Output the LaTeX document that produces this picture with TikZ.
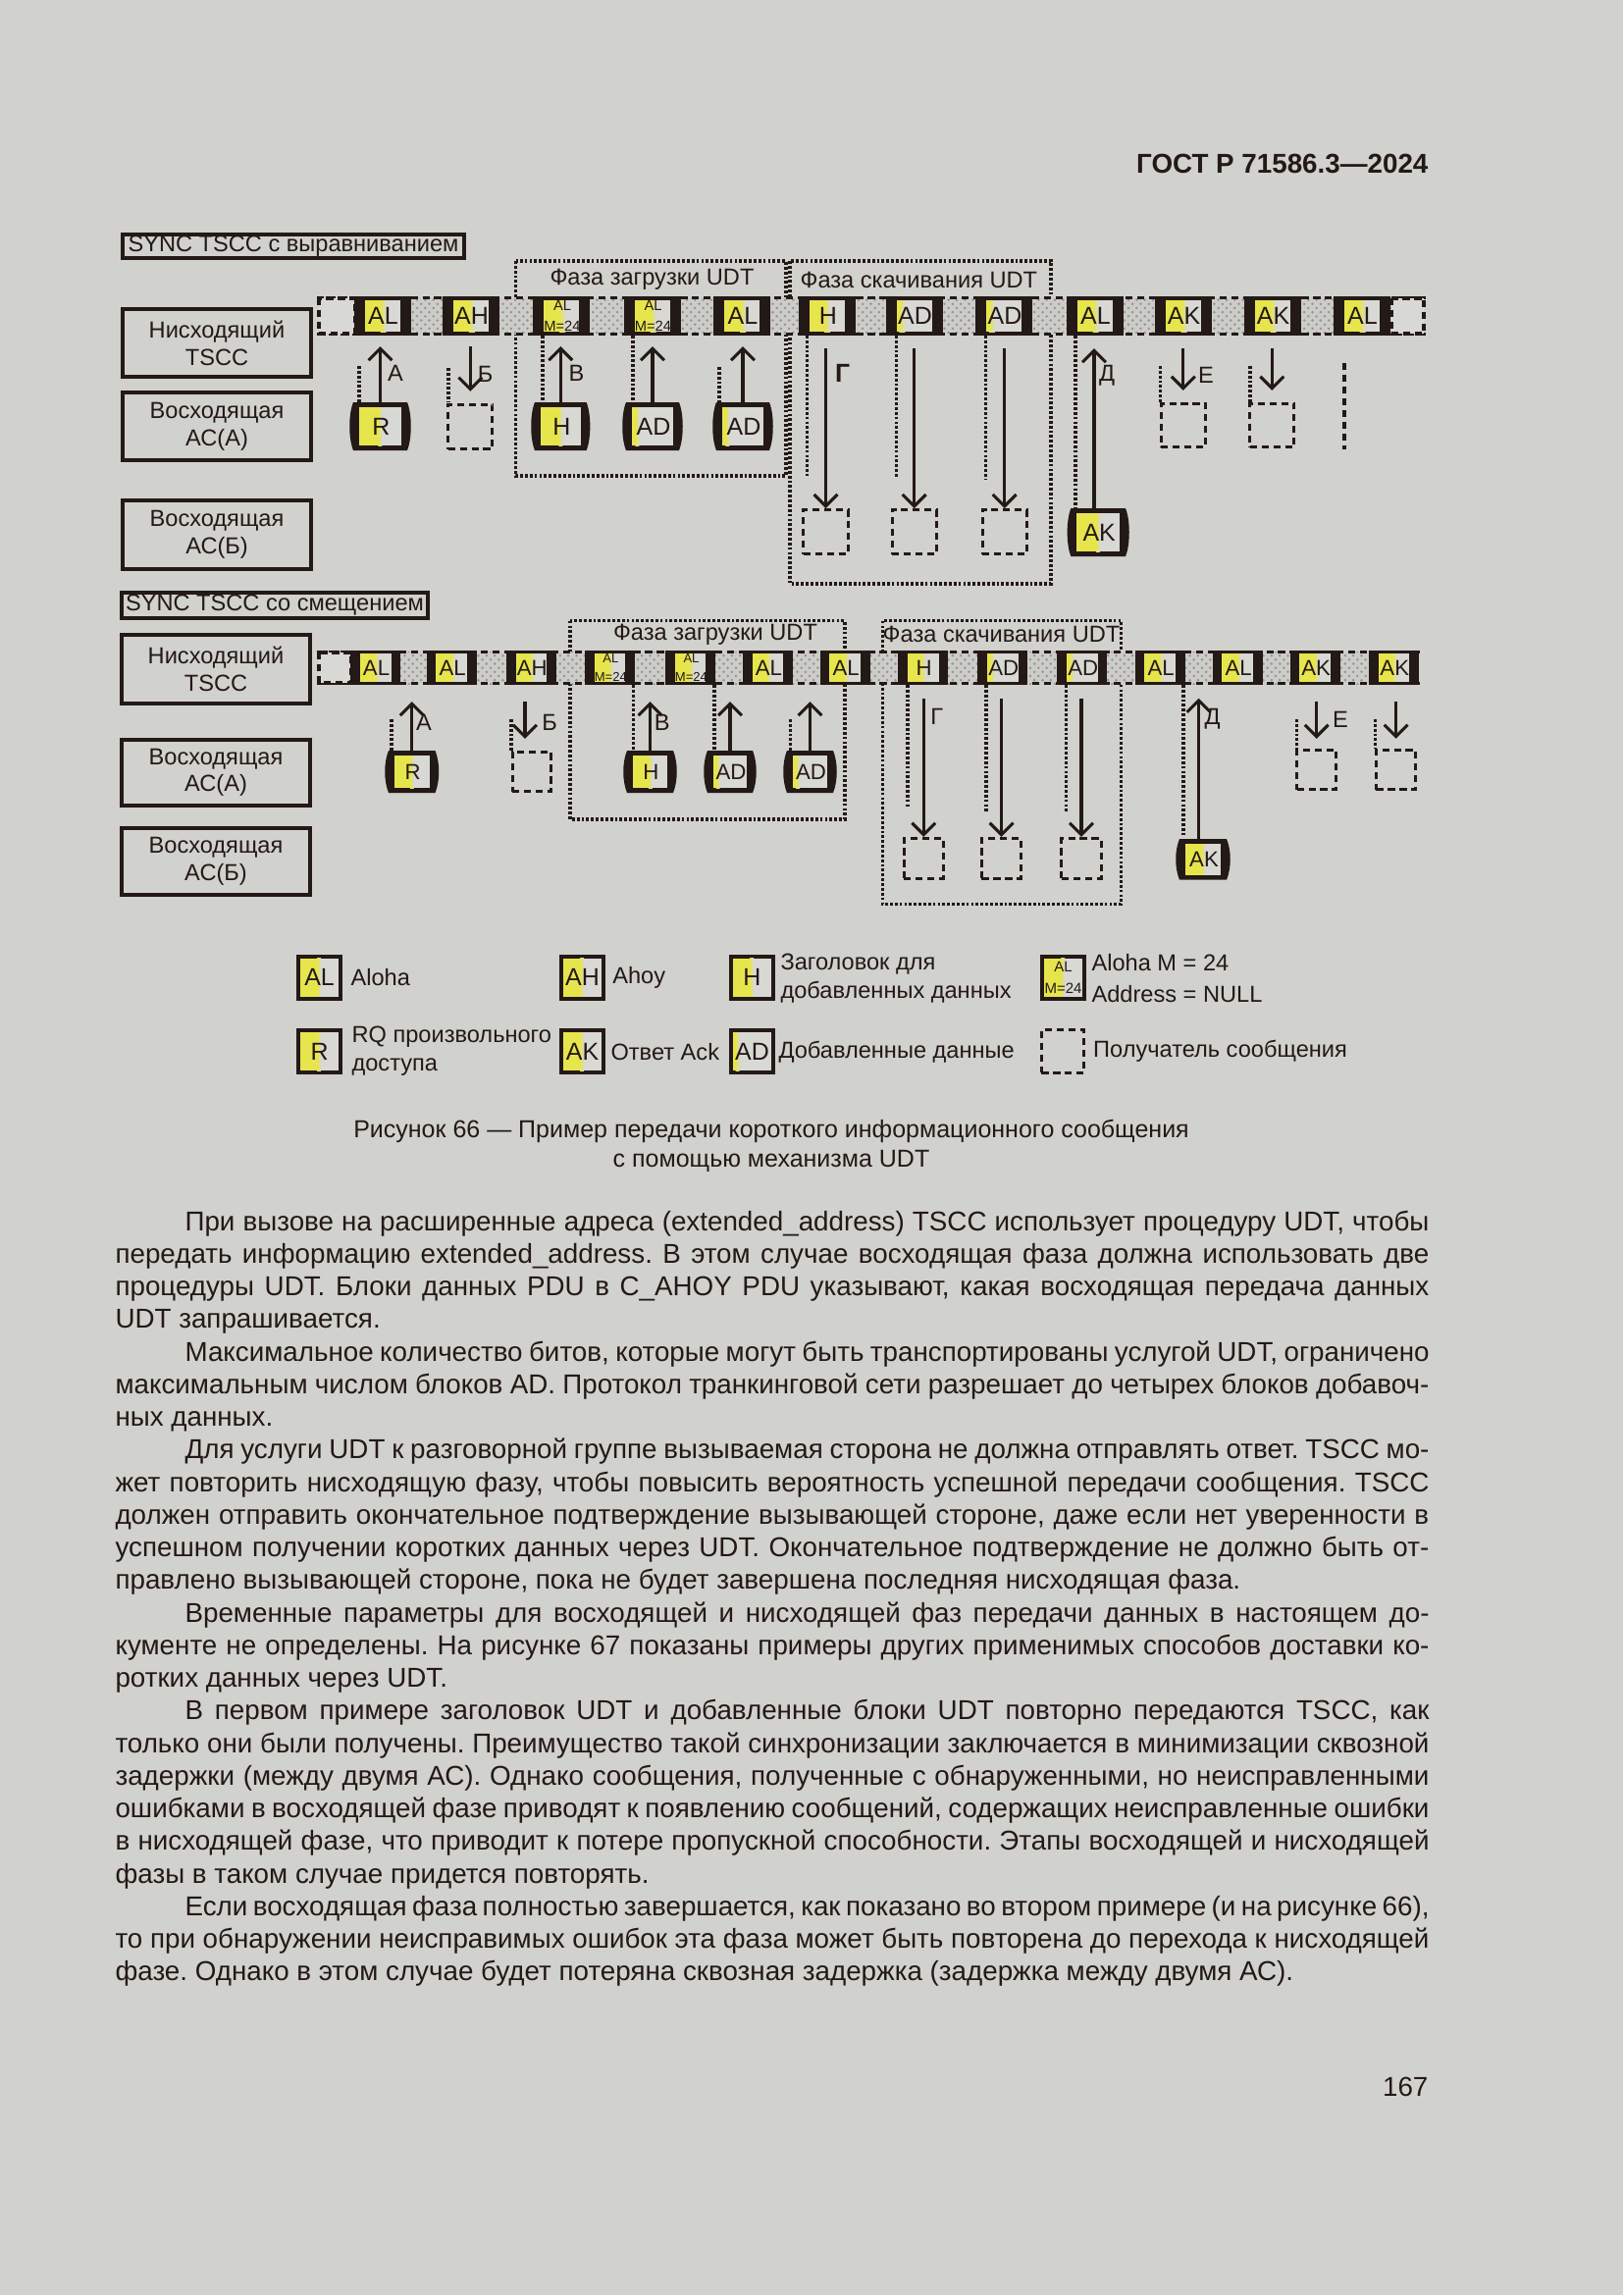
\documentclass[tikz,border=0pt]{standalone}
\usepackage{fontspec}
\setmainfont{Liberation Sans}
\usetikzlibrary{arrows.meta,patterns}
\definecolor{bg}{RGB}{209,209,205}
\definecolor{ink}{RGB}{35,25,22}
\definecolor{yel}{RGB}{231,229,76}
\definecolor{paper}{RGB}{216,216,212}
\definecolor{gapc}{RGB}{204,204,200}
\definecolor{dotc}{RGB}{150,148,145}
\newcommand\fL{\fontsize{8.5}{10}\selectfont}
\newcommand\fLg{\fontsize{9}{10}\selectfont}
\newcommand\fA{\fontsize{9}{10}\selectfont}
\newcommand\fB{\fontsize{8}{9}\selectfont}
\newcommand\fMa{\fontsize{5.3}{7.6}\selectfont}
\newcommand\fMb{\fontsize{4.7}{6.6}\selectfont}
\newcommand\fMl{\fontsize{5.4}{8}\selectfont}
\tikzset{
 lbl/.style={font=\fL,text=ink,inner sep=0pt},
 slottxt/.style={text=ink,inner sep=0pt,align=center},
 arr/.style={draw=ink,line width=1.1pt,-{Straight Barb[length=4.3pt,width=8.6pt]}},
 dotln/.style={draw=ink,line width=1.1pt,dash pattern=on 1pt off 0.75pt},
 dashln/.style={draw=ink,line width=1.1pt,dash pattern=on 2.6pt off 1.7pt},
 phase/.style={draw=ink,line width=1.1pt,dash pattern=on 1pt off 0.75pt},
 recv/.style={dashln,inner sep=0pt},
 lbox/.style={draw=ink,line width=1.4pt,inner sep=0pt,align=center,font=\fL,text=ink},
 body/.style={font=\fontsize{10}{12}\selectfont,text=ink,inner sep=0pt,anchor=base west},
 anch/.style={inner sep=0pt,outer sep=0pt},
}
% slot in a strip: name, cx, cy, scale, yellow fraction, font, label
\newcommand\UDTslot[7]{%
 \fill[ink] ({#2-29*#4},{#3-20*#4}) rectangle ({#2+29*#4},{#3+20*#4});
 \fill[paper] ({#2-18*#4},{#3-16*#4}) rectangle ({#2+18*#4},{#3+16*#4});
 \fill[yel] ({#2-18*#4},{#3-16*#4}) rectangle ({#2-18*#4+36*#5*#4},{#3+16*#4});
 \shade[left color=yel,right color=paper] ({#2-18*#4+36*#5*#4},{#3-16*#4}) rectangle ({#2-18*#4+36*#5*#4+6*#4},{#3+16*#4});
 \node[slottxt,font=#6] (#1) at ({#2+1*#4},{#3}) {#7};
}
% barrel box: name, L, T, R, B, yellow fraction, font, label
\newcommand\BarrelBox[8]{%
 \fill[ink] (#2,#3) -- (#4,#3) .. controls ({#4+5},{#3+12}) and ({#4+5},{#5-12}) .. (#4,#5) -- (#2,#5) .. controls ({#2-5},{#5-12}) and ({#2-5},{#3+12}) .. cycle;
 \fill[paper] ({#2+6},{#3+5}) rectangle ({#4-6},{#5-5});
 \fill[yel] ({#2+6},{#3+5}) rectangle ({#2+6+#6*(#4-#2-12)},{#5-5});
 \shade[left color=yel,right color=paper] ({#2+6+#6*(#4-#2-12)},{#3+5}) rectangle ({#2+10+#6*(#4-#2-12)},{#5-5});
 \node[anch,minimum width={0.36pt*(#4-#2)},minimum height={0.36pt*(#5-#3)}] (#1) at ({(#2+#4)/2},{(#3+#5)/2}) {};
 \node[slottxt,font=#7] (#1t) at ({(#2+#4)/2+1},{(#3+#5)/2}) {#8};
}
% legend box: name, x0, y0, yellow fraction, font, label
\newcommand\LegBox[6]{%
 \fill[ink] (#2,#3) rectangle ({#2+47},{#3+47});
 \fill[paper] ({#2+4},{#3+4}) rectangle ({#2+43},{#3+43});
 \fill[yel] ({#2+4},{#3+4}) rectangle ({#2+4+39*#4},{#3+43});
 \shade[left color=yel,right color=paper] ({#2+4+39*#4},{#3+4}) rectangle ({#2+8+39*#4},{#3+43});
 \node[slottxt,font=#5] (#1) at ({#2+24},{#3+23.5}) {#6};
}
\newcommand\JL[5]{\node[body] (#1) at (#2,#3) {\makebox[#4][s]{#5}};}
\newcommand\LL[4]{\node[body] (#1) at (#2,#3) {#4};}
\begin{document}
\frenchspacing
\begin{tikzpicture}[x=0.36pt,y=-0.36pt]
\useasboundingbox (0,0) rectangle (1654,2339);
\fill[bg] (0,0) rectangle (1654,2339);

% header
\node[anchor=base east,inner sep=0pt,text=ink,font=\fontsize{10}{12}\selectfont\bfseries] (hdr) at (1456,176.7) {ГОСТ Р 71586.3—2024};

% ============ TOP DIAGRAM ============
\node[lbox,minimum width=125.3pt,minimum height=8.7pt] (sync1) at (299,251) {SYNC TSCC с выравниванием};
\node[lbox,minimum width=69.2pt,minimum height=24.9pt] (nis1) at (221,349.5) {Нисходящий\\TSCC};
\node[lbox,minimum width=69.2pt,minimum height=24.9pt] (acA1) at (221,434.5) {Восходящая\\АС(А)};
\node[lbox,minimum width=69.2pt,minimum height=25.2pt] (acB1) at (221,545) {Восходящая\\АС(Б)};

\draw[phase] (525.5,266) rectangle (801,485);
\draw[phase] (805,266) rectangle (1071,595);
\node[lbl] (ph1) at (664.5,285) {Фаза загрузки UDT};
\node[lbl,anchor=west] (ph2) at (815,285) {Фаза скачивания UDT};

% strip
\fill[gapc] (362,303) rectangle (1418,341);
\fill[pattern=crosshatch dots,pattern color=dotc] (362,303) rectangle (1418,341);
\draw[dashln,line width=1.2pt] (323,303.5) -- (1453,303.5);
\draw[dashln,line width=1.2pt] (323,340.5) -- (1453,340.5);
\filldraw[fill=paper,dashln] (325,304) rectangle (362,340);
\filldraw[fill=paper,dashln] (1418,304) rectangle (1451,340);
\UDTslot{t1}{389.5}{322}{1}{0.45}{\fA}{AL}
\UDTslot{t2}{479.6}{322}{1}{0.45}{\fA}{AH}
\UDTslot{t3}{572}{322}{1}{0.45}{\fMa}{AL\\M=24}
\UDTslot{t4}{664.5}{322}{1}{0.45}{\fMa}{AL\\M=24}
\UDTslot{t5}{756}{322}{1}{0.45}{\fA}{AL}
\UDTslot{t6}{843}{322}{1}{0.42}{\fA}{H}
\UDTslot{t7}{931.5}{322}{1}{0.08}{\fA}{AD}
\UDTslot{t8}{1023}{322}{1}{0.08}{\fA}{AD}
\UDTslot{t9}{1115.5}{322}{1}{0.45}{\fA}{AL}
\UDTslot{t10}{1205.5}{322}{1}{0.45}{\fA}{AK}
\UDTslot{t11}{1296.5}{322}{1}{0.45}{\fA}{AK}
\UDTslot{t12}{1387.5}{322}{1}{0.45}{\fA}{AL}

% markers
\draw[dotln] (366,373) -- (366,410);
\draw[dotln] (457,375) -- (457,410);
\draw[dotln] (553,342) -- (553,410);
\draw[dotln] (645,342) -- (645,410);
\draw[dotln] (733,374) -- (733,410);
\draw[dotln] (822.5,342) -- (822.5,485);
\draw[dotln] (913.6,342) -- (913.6,487);
\draw[dotln] (1004.7,342) -- (1004.7,488);
\draw[dotln] (1096,342) -- (1096,518);
\draw[dotln] (1182.5,373) -- (1182.5,410);
\draw[dotln] (1274,373) -- (1274,410);
\draw[dashln] (1370,370) -- (1370,458);

% senders
\BarrelBox{bR1}{360}{410}{415}{459}{0.45}{\fA}{R}
\BarrelBox{bH1}{545}{410}{597.6}{459}{0.45}{\fA}{H}
\BarrelBox{bADa1}{638}{410}{692}{459}{0.08}{\fA}{AD}
\BarrelBox{bADb1}{730}{410}{784}{459}{0.08}{\fA}{AD}
\BarrelBox{bAK1}{1091.4}{518}{1147}{567}{0.45}{\fA}{AK}
% receivers
\node[recv,minimum width=16.3pt,minimum height=16.3pt] (rB1) at (479.3,434.9) {};
\node[recv,minimum width=16.3pt,minimum height=16.3pt] (rGa1) at (841.5,542.2) {};
\node[recv,minimum width=16.3pt,minimum height=16.3pt] (rGb1) at (931.7,542.2) {};
\node[recv,minimum width=16.3pt,minimum height=16.3pt] (rGc1) at (1023.7,542.2) {};
\node[recv,minimum width=16.3pt,minimum height=16pt] (rEa1) at (1205.8,433.5) {};
\node[recv,minimum width=16.3pt,minimum height=16pt] (rEb1) at (1296.3,433.5) {};

% arrows
\coordinate (tA1) at (387.5,353);
\coordinate (sB1) at (479.3,353);
\coordinate (tV1) at (571.3,353);
\coordinate (tAa1) at (665,353);
\coordinate (tAb1) at (757,353);
\coordinate (sGa1) at (841.5,355);
\coordinate (sGb1) at (931.7,355);
\coordinate (sGc1) at (1023.7,355);
\coordinate (tD1) at (1115,355);
\coordinate (sEa1) at (1205.8,355);
\coordinate (sEb1) at (1296.3,355);
\draw[arr] (bR1.north) -- (tA1);
\draw[arr,shorten >=4.3pt] (sB1) -- (rB1.north);
\draw[arr] (bH1.north) -- (tV1);
\draw[arr] (bADa1.north) -- (tAa1);
\draw[arr] (bADb1.north) -- (tAb1);
\draw[arr] (sGa1) -- (rGa1.north);
\draw[arr] (sGb1) -- (rGb1.north);
\draw[arr] (sGc1) -- (rGc1.north);
\draw[arr] (bAK1.north -| tD1) -- (tD1);
\draw[arr,shorten >=4.3pt] (sEa1) -- (rEa1.north);
\draw[arr,shorten >=4.3pt] (sEb1) -- (rEb1.north);
\node[lbl] (lA1) at (403,380) {А};
\node[lbl] (lB1) at (494.7,381) {Б};
\node[lbl] (lV1) at (587.5,380.7) {В};
\node[lbl,font=\fontsize{9.5}{10}\selectfont\bfseries] (lG1) at (858.5,380) {Г};
\node[lbl] (lD1) at (1128,383) {Д};
\node[lbl] (lE1) at (1229,382.7) {Е};

% ============ BOTTOM DIAGRAM ============
\node[lbox,minimum width=112.4pt,minimum height=9.4pt] (sync2) at (280,616.7) {SYNC TSCC со смещением};
\node[lbox,minimum width=69.2pt,minimum height=25.2pt] (nis2) at (220,682) {Нисходящий\\TSCC};
\node[lbox,minimum width=69.2pt,minimum height=24.2pt] (acA2) at (220,787.2) {Восходящая\\АС(А)};
\node[lbox,minimum width=69.2pt,minimum height=24.5pt] (acB2) at (220,877.9) {Восходящая\\АС(Б)};

\draw[phase] (581,632.7) rectangle (861,835);
\draw[phase] (899.4,632.7) rectangle (1142.6,921.7);
\node[lbl] (ph3) at (729,646.7) {Фаза загрузки UDT};
\node[lbl] (ph4) at (1020.5,646.7) {Фаза скачивания UDT};

\fill[gapc] (358,664) rectangle (1446,697);
\fill[pattern=crosshatch dots,pattern color=dotc] (358,664) rectangle (1446,697);
\draw[dashln,line width=1.1pt] (323,664.3) -- (1446,664.3);
\draw[dashln,line width=1.1pt] (323,696.7) -- (1446,696.7);
\filldraw[fill=paper,dashln] (325,665) rectangle (358,696);
\UDTslot{u1}{382.7}{680.5}{0.88}{0.45}{\fB}{AL}
\UDTslot{u2}{460.3}{680.5}{0.88}{0.45}{\fB}{AL}
\UDTslot{u3}{541.4}{680.5}{0.88}{0.45}{\fB}{AH}
\UDTslot{u4}{621.4}{680.5}{0.88}{0.45}{\fMb}{AL\\M=24}
\UDTslot{u5}{703.6}{680.5}{0.88}{0.45}{\fMb}{AL\\M=24}
\UDTslot{u6}{782.5}{680.5}{0.88}{0.45}{\fB}{AL}
\UDTslot{u7}{861.3}{680.5}{0.88}{0.45}{\fB}{AL}
\UDTslot{u8}{940.8}{680.5}{0.88}{0.42}{\fB}{H}
\UDTslot{u9}{1021.9}{680.5}{0.88}{0.08}{\fB}{AD}
\UDTslot{u10}{1102.9}{680.5}{0.88}{0.08}{\fB}{AD}
\UDTslot{u11}{1182.3}{680.5}{0.88}{0.45}{\fB}{AL}
\UDTslot{u12}{1261.3}{680.5}{0.88}{0.45}{\fB}{AL}
\UDTslot{u13}{1340.3}{680.5}{0.88}{0.45}{\fB}{AK}
\UDTslot{u14}{1420.4}{680.5}{0.88}{0.45}{\fB}{AK}

\draw[dotln] (399,733) -- (399,765);
\draw[dotln] (521,733) -- (521,765);
\draw[dotln] (645.6,698) -- (645.6,765);
\draw[dotln] (728,698) -- (728,765);
\draw[dotln] (805.6,733) -- (805.6,765);
\draw[dotln] (925,698) -- (925,823);
\draw[dotln] (1005,698) -- (1005,827);
\draw[dotln] (1086.5,698) -- (1086.5,828);
\draw[dotln] (1206,698) -- (1206,853);
\draw[dotln] (1321.7,733) -- (1321.7,763);
\draw[dotln] (1401.6,733) -- (1401.6,763);

\BarrelBox{bR2}{396}{765}{443.5}{808}{0.45}{\fB}{R}
\BarrelBox{bH2}{639}{765}{686}{808}{0.45}{\fB}{H}
\BarrelBox{bADa2}{721}{765}{767}{808}{0.08}{\fB}{AD}
\BarrelBox{bADb2}{802}{765}{849}{808}{0.08}{\fB}{AD}
\BarrelBox{bAK2}{1202}{855}{1250}{896.7}{0.45}{\fB}{AK}
\node[recv,minimum width=14.3pt,minimum height=14.5pt] (rB2) at (542,786.5) {};
\node[recv,minimum width=14.5pt,minimum height=14.7pt] (rGa2) at (941.3,874.8) {};
\node[recv,minimum width=14.5pt,minimum height=14.7pt] (rGb2) at (1020.6,874.8) {};
\node[recv,minimum width=14.5pt,minimum height=14.7pt] (rGc2) at (1102,874.8) {};
\node[recv,minimum width=14.5pt,minimum height=14.5pt] (rEa2) at (1341.7,784.5) {};
\node[recv,minimum width=14.5pt,minimum height=14.5pt] (rEb2) at (1422.6,784.5) {};

\coordinate (tA2) at (419.75,715);
\coordinate (sB2) at (535,715);
\coordinate (tV2) at (662.5,715);
\coordinate (tAa2) at (744,715);
\coordinate (tAb2) at (825.5,715);
\coordinate (sGa2) at (941.3,711.7);
\coordinate (sGb2) at (1020.6,711.7);
\coordinate (sGc2) at (1102,711.7);
\coordinate (tD2) at (1221.7,711.7);
\coordinate (sEa2) at (1341.7,715);
\coordinate (sEb2) at (1422.6,715);
\draw[arr] (bR2.north) -- (tA2);
\draw[arr,shorten >=4.3pt] (sB2) -- (sB2 |- rB2.north);
\draw[arr] (bH2.north) -- (tV2);
\draw[arr] (bADa2.north) -- (tAa2);
\draw[arr] (bADb2.north) -- (tAb2);
\draw[arr] (sGa2) -- (rGa2.north);
\draw[arr] (sGb2) -- (rGb2.north);
\draw[arr] (sGc2) -- (rGc2.north);
\draw[arr] (bAK2.north -| tD2) -- (tD2);
\draw[arr,shorten >=3.6pt] (sEa2) -- (rEa2.north);
\draw[arr,shorten >=3.6pt] (sEb2) -- (rEb2.north);
\node[lbl] (lA2) at (432,736.7) {А};
\node[lbl] (lB2) at (560,736.7) {Б};
\node[lbl] (lV2) at (674.7,736.7) {В};
\node[lbl] (lG2) at (954.8,730) {Г};
\node[lbl] (lD2) at (1235.5,733) {Д};
\node[lbl] (lE2) at (1366,733) {Е};

% ============ LEGEND ============
\LegBox{lgAL}{301.6}{972.7}{0.45}{\fLg}{AL}
\LegBox{lgAH}{569.6}{972.7}{0.45}{\fLg}{AH}
\LegBox{lgH}{742.5}{972.7}{0.45}{\fLg}{H}
\LegBox{lgM}{1059.5}{972.7}{0.45}{\fMl}{AL\\M=24}
\LegBox{lgR}{301.6}{1048}{0.45}{\fLg}{R}
\LegBox{lgAK}{569.6}{1048}{0.45}{\fLg}{AK}
\LegBox{lgAD}{742.5}{1048}{0.08}{\fLg}{AD}
\node[recv,minimum width=15.6pt,minimum height=15.6pt] (lgRv) at (1083,1071.5) {};
\node[lbl,anchor=west] (tAL) at (357,996) {Aloha};
\node[lbl,anchor=west] (tAH) at (623.7,996) {Ahoy};
\node[lbl,anchor=west,align=left,font=\fontsize{8.5}{10.3}\selectfont] (tH) at (795,997) {Заголовок для\\добавленных данных};
\node[lbl,anchor=west,align=left,font=\fontsize{8.5}{11.2}\selectfont] (tM) at (1112,997) {Aloha M = 24\\Address = NULL};
\node[lbl,anchor=west,align=left,font=\fontsize{8.5}{10.3}\selectfont] (tR) at (358,1071) {RQ произвольного\\доступа};
\node[lbl,anchor=west] (tAK) at (622,1071.7) {Ответ Ack};
\node[lbl,anchor=west] (tAD) at (793,1071.7) {Добавленные данные};
\node[lbl,anchor=west] (tRv) at (1113.6,1071.7) {Получатель сообщения};

% caption
\node[inner sep=0pt,text=ink,align=center,font=\fontsize{9}{10.8}\selectfont] (cap) at (786,1168) {Рисунок 66 — Пример передачи короткого информационного сообщения\\с помощью механизма UDT};

% ============ BODY TEXT ============
\JL{b1}{188}{1254}{456.5pt}{При вызове на расширенные адреса (extended\_address) TSCC использует процедуру UDT, чтобы}
\JL{b2}{117}{1287.25}{482pt}{передать информацию extended\_address. В этом случае восходящая фаза должна использовать две}
\JL{b3}{117}{1320.5}{482pt}{процедуры UDT. Блоки данных PDU в C\_AHOY PDU указывают, какая восходящая передача данных}
\LL{b4}{117}{1353.75}{UDT запрашивается.}
\JL{b5}{188}{1387}{456.5pt}{Максимальное количество битов, которые могут быть транспортированы услугой UDT, ограничено}
\JL{b6}{117}{1420.25}{482pt}{максимальным числом блоков AD. Протокол транкинговой сети разрешает до четырех блоков добавоч-}
\LL{b7}{117}{1453.5}{ных данных.}
\JL{b8}{188}{1486.75}{456.5pt}{Для услуги UDT к разговорной группе вызываемая сторона не должна отправлять ответ. TSCC мо-}
\JL{b9}{117}{1520}{482pt}{жет повторить нисходящую фазу, чтобы повысить вероятность успешной передачи сообщения. TSCC}
\JL{b10}{117}{1553.25}{482pt}{должен отправить окончательное подтверждение вызывающей стороне, даже если нет уверенности в}
\JL{b11}{117}{1586.5}{482pt}{успешном получении коротких данных через UDT. Окончательное подтверждение не должно быть от-}
\LL{b12}{117}{1619.75}{правлено вызывающей стороне, пока не будет завершена последняя нисходящая фаза.}
\JL{b13}{188}{1653}{456.5pt}{Временные параметры для восходящей и нисходящей фаз передачи данных в настоящем до-}
\JL{b14}{117}{1686.25}{482pt}{кументе не определены. На рисунке 67 показаны примеры других применимых способов доставки ко-}
\LL{b15}{117}{1719.5}{ротких данных через UDT.}
\JL{b16}{188}{1752.75}{456.5pt}{В первом примере заголовок UDT и добавленные блоки UDT повторно передаются TSCC, как}
\JL{b17}{117}{1786}{482pt}{только они были получены. Преимущество такой синхронизации заключается в минимизации сквозной}
\JL{b18}{117}{1819.25}{482pt}{задержки (между двумя АС). Однако сообщения, полученные с обнаруженными, но неисправленными}
\JL{b19}{117}{1852.5}{482pt}{ошибками в восходящей фазе приводят к появлению сообщений, содержащих неисправленные ошибки}
\JL{b20}{117}{1885.75}{482pt}{в нисходящей фазе, что приводит к потере пропускной способности. Этапы восходящей и нисходящей}
\LL{b21}{117}{1919}{фазы в таком случае придется повторять.}
\JL{b22}{188}{1952.25}{456.5pt}{Если восходящая фаза полностью завершается, как показано во втором примере (и на рисунке 66),}
\JL{b23}{117}{1985.5}{482pt}{то при обнаружении неисправимых ошибок эта фаза может быть повторена до перехода к нисходящей}
\LL{b24}{117}{2018.75}{фазе. Однако в этом случае будет потеряна сквозная задержка (задержка между двумя АС).}

\node[anchor=base east,inner sep=0pt,text=ink,font=\fontsize{10}{12}\selectfont] (pg) at (1456,2136) {167};
\end{tikzpicture}
\end{document}
